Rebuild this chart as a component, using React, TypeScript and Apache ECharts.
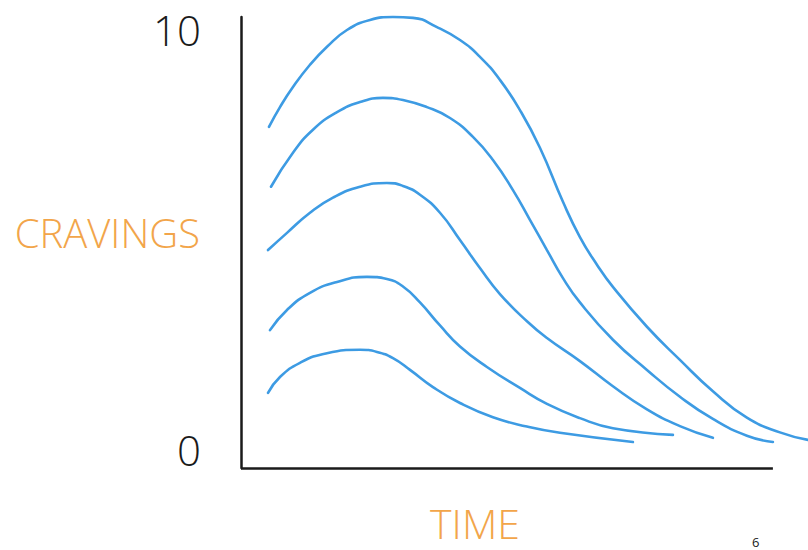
import React, { useEffect, useRef } from "react";
import * as echarts from "echarts";

// time (0 = y-axis, 100 = end of x-axis line), cravings (0..10)
const curve1: number[][] = [
  [5.26, 7.69], [7.33, 8.16], [9.77, 8.64], [12.97, 9.17], [16.17, 9.6], [19.92, 10.0],
  [24.25, 10.24], [28.57, 10.31], [32.33, 10.29], [36.84, 10.07], [41.17, 9.76], [44.92, 9.36],
  [48.68, 8.81], [52.44, 8.09], [56.2, 7.19], [60.53, 5.9], [63.72, 5.06], [66.92, 4.4],
  [69.92, 3.87], [76.32, 2.92], [82.52, 2.13], [88.72, 1.38], [95.11, 0.75], [101.32, 0.4],
  [106.58, 0.22],
];
const curve2: number[][] = [
  [5.64, 6.26], [9.77, 7.07], [13.53, 7.62], [18.05, 8.04], [22.37, 8.28], [26.69, 8.38],
  [30.45, 8.33], [34.96, 8.16], [39.29, 7.9], [43.61, 7.45], [47.37, 6.9], [51.13, 6.18],
  [54.32, 5.47], [57.52, 4.75], [60.53, 4.08], [63.72, 3.5], [69.92, 2.61], [76.32, 1.89],
  [82.52, 1.25], [88.72, 0.72], [95.11, 0.32], [100, 0.17],
];
const curve3: number[][] = [
  [5.08, 4.75], [8.65, 5.16], [12.97, 5.64], [17.29, 6.0], [22.37, 6.26], [27.44, 6.35],
  [30.45, 6.28], [33.65, 6.07], [37.41, 5.64], [41.17, 4.99], [44.92, 4.32], [48.68, 3.7],
  [53.76, 3.05], [57.52, 2.65], [63.72, 2.1], [69.92, 1.5], [76.32, 0.95], [82.52, 0.55],
  [88.72, 0.27],
];
const curve4: number[][] = [
  [5.45, 2.84], [8.65, 3.32], [12.97, 3.73], [18.05, 3.99], [23.68, 4.11], [27.44, 4.06],
  [30.45, 3.88], [33.65, 3.5], [37.41, 2.95], [41.17, 2.45], [46.24, 1.96], [52.44, 1.46],
  [57.52, 1.08], [63.72, 0.74], [69.92, 0.5], [81.2, 0.34],
];
const curve5: number[][] = [
  [5.08, 1.34], [7.33, 1.72], [11.09, 2.06], [16.17, 2.29], [22.37, 2.37], [25.56, 2.32],
  [28.57, 2.17], [31.77, 1.89], [36.09, 1.48], [41.17, 1.1], [47.37, 0.76], [53.76, 0.54],
  [59.96, 0.39], [73.68, 0.17],
];
const curves = [curve1, curve2, curve3, curve4, curve5];
const timeRange = [0, 106.6];
const cravingsRange = [-0.45, 10.31];
const xAxisLineExtent = [0, 100];
const yTickLabels = [0, 10];
const xAxisTitle = "TIME";
const yAxisTitle = "CRAVINGS";
const pageNumber = "6";

const BLUE = "#3d9be3";
const ORANGE = "#f2a54a";
const INK = "#1a1a1a";

export default function App() {
  const ref = useRef<HTMLDivElement>(null);
  useEffect(() => {
    if (!ref.current) return;
    const chart = echarts.init(ref.current, null, { renderer: "svg" });
    chart.setOption({
      animation: false,
      backgroundColor: "#ffffff",
      grid: {
        left: 241,
        right: 0,
        top: 17,
        bottom: 82,
        containLabel: false,
        outerBoundsMode: "none",
      },
      xAxis: {
        type: "value",
        min: timeRange[0],
        max: timeRange[1],
        name: xAxisTitle,
        nameLocation: "middle",
        nameGap: 34,
        nameMoveOverlap: false,
        nameTextStyle: {
          color: ORANGE,
          fontSize: 41,
          fontFamily: "Open Sans",
          fontWeight: 300,
          padding: [0, 99, 0, 0],
        },
        axisLine: { show: false, onZero: false },
        axisTick: { show: false },
        axisLabel: { show: false },
        splitLine: { show: false },
      },
      yAxis: {
        type: "value",
        min: cravingsRange[0],
        max: cravingsRange[1],
        name: yAxisTitle,
        nameLocation: "middle",
        nameRotate: 0,
        nameGap: 41,
        nameMoveOverlap: false,
        nameTextStyle: {
          color: ORANGE,
          fontSize: 40,
          fontFamily: "Open Sans",
          fontWeight: 300,
          verticalAlign: "bottom",
          lineHeight: 20,
        },
        axisLine: { show: true, onZero: false, lineStyle: { color: INK, width: 2.5 } },
        axisTick: { show: false },
        splitLine: { show: false },
        axisLabel: {
          customValues: yTickLabels,
          margin: 40,
          color: INK,
          fontSize: 42,
          fontFamily: "Open Sans",
          fontWeight: 300,
        },
      },
      graphic: [
        {
          type: "text",
          left: 752,
          top: 535,
          style: { text: pageNumber, fill: INK, fontSize: 13, fontFamily: "Open Sans" },
        },
      ],
      series: curves.map((c, i) => ({
        type: "line",
        data: c,
        smooth: 0.5,
        clip: false,
        showSymbol: false,
        symbol: "none",
        lineStyle: { color: BLUE, width: 2.6, cap: "round" },
        markLine:
          i === 0
            ? {
                silent: true,
                symbol: ["none", "none"],
                label: { show: false },
                lineStyle: { color: INK, width: 2.5, type: "solid" },
                data: [
                  [
                    { coord: [xAxisLineExtent[0], cravingsRange[0]] },
                    { coord: [xAxisLineExtent[1], cravingsRange[0]] },
                  ],
                ],
              }
            : undefined,
      })),
    });
    return () => chart.dispose();
  }, []);
  return (
    <div
      ref={ref}
      style={{ position: "absolute", left: 0, top: 0, width: 808, height: 550 }}
    />
  );
}
